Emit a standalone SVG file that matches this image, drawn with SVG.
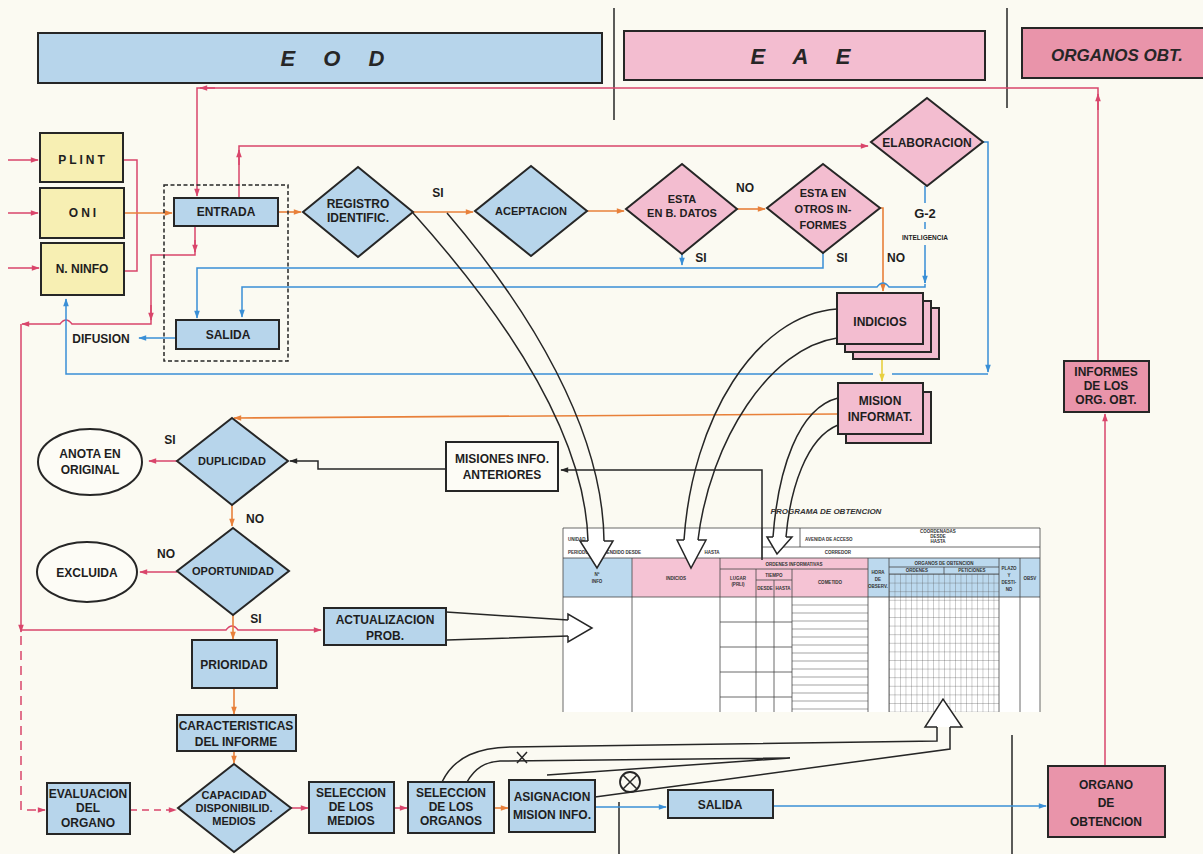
<svg xmlns="http://www.w3.org/2000/svg" width="1203" height="854" viewBox="0 0 1203 854">
<style>
.bl{fill:#b7d5eb;stroke:#262626;stroke-width:2}
.pk{fill:#f3bdd0;stroke:#262626;stroke-width:2}
.dpk{fill:#e994aa;stroke:#262626;stroke-width:2}
.ye{fill:#f7efb3;stroke:#262626;stroke-width:2}
.wh{fill:#fdfcf6;stroke:#262626;stroke-width:2}
.t{font-family:"Liberation Sans",Arial,sans-serif;font-weight:bold;font-size:12px;fill:#1e1e1e;text-anchor:middle}
.s{font-size:11px}
.h{font-family:"Liberation Sans",Arial,sans-serif;font-weight:bold;font-style:italic;fill:#262626;text-anchor:middle}
.tt{font-family:"Liberation Sans",Arial,sans-serif;font-weight:bold;font-size:4.5px;fill:#333;text-anchor:middle}
.ts{text-anchor:start}
.r{fill:none;stroke:#d9456b;stroke-width:1.5}
.o{fill:none;stroke:#e8803a;stroke-width:1.6}
.b{fill:none;stroke:#3a8fd6;stroke-width:1.5}
.k{fill:none;stroke:#262626;stroke-width:1.5}
.g{fill:none;stroke:#444;stroke-width:0.8}
.ha{fill:#fff;stroke:#262626;stroke-width:1.5}
</style>
<defs>
<marker id="ar" viewBox="0 0 10 10" refX="9" refY="5" markerWidth="9" markerHeight="8" orient="auto" markerUnits="userSpaceOnUse"><path d="M0,1.5 L10,5 L0,8.5 z" fill="#d9456b"/></marker>
<marker id="ao" viewBox="0 0 10 10" refX="9" refY="5" markerWidth="9" markerHeight="8" orient="auto" markerUnits="userSpaceOnUse"><path d="M0,1.5 L10,5 L0,8.5 z" fill="#e8803a"/></marker>
<marker id="ab" viewBox="0 0 10 10" refX="9" refY="5" markerWidth="9" markerHeight="8" orient="auto" markerUnits="userSpaceOnUse"><path d="M0,1.5 L10,5 L0,8.5 z" fill="#3a8fd6"/></marker>
<marker id="ay" viewBox="0 0 10 10" refX="9" refY="5" markerWidth="9" markerHeight="8" orient="auto" markerUnits="userSpaceOnUse"><path d="M0,1.5 L10,5 L0,8.5 z" fill="#e8d040"/></marker>
<marker id="ak" viewBox="0 0 10 10" refX="9" refY="5" markerWidth="9" markerHeight="8" orient="auto" markerUnits="userSpaceOnUse"><path d="M0,1.5 L10,5 L0,8.5 z" fill="#262626"/></marker>
<pattern id="grid" x="889" y="574" width="5.5" height="8.6" patternUnits="userSpaceOnUse"><path d="M0,0 V8.6 M0,0 H5.5" stroke="#555" stroke-width="0.6"/></pattern>
</defs>
<rect x="0" y="0" width="1203" height="854" fill="#fbfaf2"/>

<g id="dividers" stroke="#262626" stroke-width="1.5">
<line x1="614" y1="8" x2="614" y2="120"/>
<line x1="1007" y1="8" x2="1007" y2="108"/>
<line x1="619" y1="802" x2="619" y2="854"/>
<line x1="1012" y1="735" x2="1012" y2="854"/>
</g>

<g id="header-eod"><rect class="bl" x="38" y="33" width="564" height="50"/><text class="h" x="338" y="66" font-size="22" letter-spacing="11">E O D</text></g>
<g id="header-eae"><rect class="pk" x="624" y="31" width="361" height="49"/><text class="h" x="806" y="64" font-size="22" letter-spacing="11">E A E</text></g>
<g id="header-org"><rect class="dpk" x="1022" y="28" width="190" height="50"/><text class="h" x="1117" y="61" font-size="17">ORGANOS OBT.</text></g>

<g id="table">
<rect x="563" y="597" width="477" height="115" fill="#fff"/>
<rect x="563" y="528" width="477" height="30" fill="#fff"/>
<rect x="563" y="558" width="69" height="39" fill="#bcd9ee"/>
<rect x="632" y="558" width="236" height="39" fill="#f5c3d4"/>
<rect x="868" y="558" width="172" height="39" fill="#bcd9ee"/>
<rect x="889" y="574" width="110" height="138" fill="url(#grid)"/>
<g class="g">
<path d="M563,712 V528 H1040 V712"/>
<path d="M762,528 V558 M800,528 V547 M762,547 H1040 M563,558 H1040 M563,597 H1040"/>
<path d="M632,558 V712 M720,558 V712 M756,569 V712 M774,580 V712 M792,569 V712 M868,558 V712 M889,558 V712 M999,558 V712 M1020,558 V712"/>
<path d="M720,569 H868 M756,580 H792 M889,567 H999 M889,574 H999 M944,567 V574"/>
<path d="M720,622 H792 M720,647 H792 M720,672 H792 M720,697 H792"/>
<path d="M792,605 H868 M792,613 H868 M792,621 H868 M792,629 H868 M792,637 H868 M792,645 H868 M792,653 H868 M792,661 H868 M792,669 H868 M792,677 H868 M792,685 H868 M792,693 H868 M792,701 H868 M792,709 H868" stroke-width="0.5"/>
</g>
<text class="tt" x="826" y="514" style="font-size:8px;font-style:italic">PROGRAMA DE OBTENCION</text>
<text class="tt ts" x="568" y="541">UNIDAD</text>
<text class="tt ts" x="568" y="554">PERIODO COMPRENDIDO DESDE</text>
<text class="tt" x="712" y="554">HASTA</text>
<text class="tt ts" x="805" y="541">AVENIDA DE ACCESO</text>
<text class="tt" x="938" y="533">COORDENADAS</text>
<text class="tt" x="938" y="538">DESDE</text>
<text class="tt" x="938" y="543">HASTA</text>
<text class="tt" x="838" y="554">CORREDOR</text>
<text class="tt" x="597" y="576">Nº</text>
<text class="tt" x="597" y="583">INFO</text>
<text class="tt" x="676" y="580">INDICIOS</text>
<text class="tt" x="794" y="566">ORDENES INFORMATIVAS</text>
<text class="tt" x="738" y="580">LUGAR</text>
<text class="tt" x="738" y="586">(PRLI)</text>
<text class="tt" x="774" y="577">TIEMPO</text>
<text class="tt" x="765" y="590">DESDE</text>
<text class="tt" x="783" y="590">HASTA</text>
<text class="tt" x="830" y="584">COMETIDO</text>
<text class="tt" x="878" y="574">HORA</text>
<text class="tt" x="878" y="581">DE</text>
<text class="tt" x="878" y="588">OBSERV.</text>
<text class="tt" x="944" y="565">ORGANOS DE OBTENCION</text>
<text class="tt" x="917" y="572">ORDENES</text>
<text class="tt" x="972" y="572">PETICIONES</text>
<text class="tt" x="1009" y="570">PLAZO</text>
<text class="tt" x="1009" y="577">Y</text>
<text class="tt" x="1009" y="584">DESTI-</text>
<text class="tt" x="1009" y="591">NO</text>
<text class="tt" x="1030" y="580">OBSV</text>
</g>

<g id="connectors">
<path class="r" d="M8,160 H38" marker-end="url(#ar)"/>
<path class="r" d="M8,213 H38" marker-end="url(#ar)"/>
<path class="r" d="M8,268 H39" marker-end="url(#ar)"/>
<path class="r" d="M123,160 H137 V271 H124"/>
<path class="o" d="M124,213 H172" marker-end="url(#ao)"/>
<path class="r" d="M1098,362 V88 H197 V196" marker-end="url(#ar)"/>
<path class="r" d="M1098,110 V94" marker-end="url(#ar)"/>
<path class="r" d="M215,88 H200" marker-end="url(#ar)"/>
<path class="r" d="M239,198 V146 H868" marker-end="url(#ar)"/>
<path class="r" d="M239,165 V150" marker-end="url(#ar)"/>
<path class="r" d="M195,226 V255 H151 V324 H72 Q66,316 60,324 H22" marker-end="url(#ar)"/>
<path class="r" d="M195,240 V252" marker-end="url(#ar)"/>
<path class="r" d="M151,305 V320" marker-end="url(#ar)"/>
<path class="r" d="M21,324 V632" marker-end="url(#ar)"/>
<path class="r" d="M21,630 H226 Q232,622 238,630 H321" marker-end="url(#ar)"/>
<path class="r" d="M21,636 V810 H45" stroke-dasharray="9,6" marker-end="url(#ar)"/>
<path class="r" d="M130,810 H176" stroke-dasharray="7,5" marker-end="url(#ar)"/>
<path class="o" d="M278,212 H301" marker-end="url(#ao)"/>
<path class="o" d="M413,212 H473" marker-end="url(#ao)"/>
<path class="o" d="M587,211 H624" marker-end="url(#ao)"/>
<path class="o" d="M737,209 H765" marker-end="url(#ao)"/>
<path class="o" d="M880,208 H883 V291" marker-end="url(#ao)"/>
<path fill="none" stroke="#e8d040" stroke-width="1.6" d="M882,360 V381" marker-end="url(#ay)"/>
<path class="o" d="M838,414 L234,418" marker-end="url(#ao)"/>
<path class="b" d="M176,338 H139" marker-end="url(#ab)"/>
<path class="b" d="M682,254 V265" marker-end="url(#ab)"/>
<path class="b" d="M823,253 V268 H197 V318" marker-end="url(#ab)"/>
<path class="b" d="M925,186 V203 M925,222 V229 M925,245 V283"/>
<path class="b" d="M925,270 V283" marker-end="url(#ab)"/>
<path class="b" d="M925,284 V287 H889 Q883,279 877,287 H242 V317" marker-end="url(#ab)"/>
<path class="b" d="M983,142 H988 V372" marker-end="url(#ab)"/>
<path class="b" d="M988,374 H892 M873,374 H66 V299" marker-end="url(#ab)"/>
<path class="b" d="M595,807 H666" marker-end="url(#ab)"/>
<path class="b" d="M773,806 H1046" marker-end="url(#ab)"/>
<path class="r" d="M177,461 H149" marker-end="url(#ar)"/>
<path class="o" d="M232,505 V526" marker-end="url(#ao)"/>
<path class="r" d="M177,572 H140" marker-end="url(#ar)"/>
<path class="o" d="M233,615 V639" marker-end="url(#ao)"/>
<path class="o" d="M234,688 V714" marker-end="url(#ao)"/>
<path class="o" d="M234,751 V763" marker-end="url(#ao)"/>
<path class="r" d="M291,808 H308" marker-end="url(#ar)"/>
<path class="r" d="M394,808 H407" marker-end="url(#ar)"/>
<path class="o" d="M494,808 H508" marker-end="url(#ao)"/>
<path class="r" d="M1105,766 V414" marker-end="url(#ar)"/>
<path class="k" d="M762,560 V470 H561" marker-end="url(#ak)"/>
<path class="k" d="M446,469 H318 V461 H290" marker-end="url(#ak)"/>
<path class="k" d="M413,213 C500,310 585,430 588,541 M447,213 C530,310 603,430 604,541"/>
<path class="ha" d="M588,541 H580 L597,568 L613,541 H604"/>
<path class="k" d="M837,309 C755,315 692,420 684,540 M837,338 C770,348 710,440 698,540"/>
<path class="ha" d="M684,540 H677 L691,568 L706,540 H698"/>
<path class="k" d="M838,398 C798,408 778,470 773,537 M838,425 C806,438 790,490 786,537"/>
<path class="ha" d="M773,537 H767 L777,554 L792,537 H786"/>
<path class="k" d="M446,612 L568,620 M447,640 L568,636"/>
<path class="ha" d="M568,620 V614 L592,628 L568,642 V636"/>
<path class="k" d="M442,782 C455,755 480,748 510,747 L937,741 V727 M595,797 L950,749 V727"/>
<path class="ha" d="M937,727 H925 L943,699 L962,727 H950"/>
<path class="k" d="M467,782 C475,768 485,762 500,761 L790,758 M547,775 L790,758"/>
<path class="k" d="M517,752 L527,763 M527,752 L517,763"/>
<circle cx="630" cy="782" r="10" fill="none" stroke="#262626" stroke-width="1.8"/>
<path class="k" d="M623,775 L637,789 M637,775 L623,789"/>
</g>

<g id="plint"><rect class="ye" x="40" y="133" width="83" height="49"/><text class="t" x="83" y="164" letter-spacing="3">PLINT</text></g>
<g id="oni"><rect class="ye" x="40" y="188" width="84" height="50"/><text class="t" x="84" y="217" letter-spacing="3">ONI</text></g>
<g id="nninfo"><rect class="ye" x="41" y="243" width="83" height="52"/><text class="t" x="82" y="273">N. NINFO</text></g>

<g id="dashbox"><rect x="164" y="185" width="124" height="176" fill="none" stroke="#262626" stroke-width="1.5" stroke-dasharray="4,2.5"/></g>
<g id="entrada"><rect class="bl" x="174" y="198" width="104" height="28"/><text class="t" x="226" y="216">ENTRADA</text></g>
<g id="salida"><rect class="bl" x="176" y="320" width="103" height="29"/><text class="t" x="228" y="339">SALIDA</text></g>
<g id="difusion"><text class="t" x="101" y="343">DIFUSION</text></g>

<g id="registro"><path class="bl" d="M358,167 L413,212 L358,257 L303,212 Z"/><text class="t" x="358" y="208">REGISTRO</text><text class="t" x="358" y="222">IDENTIFIC.</text></g>
<g id="aceptacion"><path class="bl" d="M531,166 L587,211 L531,256 L475,211 Z"/><text class="t s" x="531" y="215">ACEPTACION</text></g>
<g id="esta-datos"><path class="pk" d="M682,164 L737,209 L682,254 L626,209 Z"/><text class="t s" x="682" y="203">ESTA</text><text class="t s" x="682" y="217">EN B. DATOS</text></g>
<g id="esta-otros"><path class="pk" d="M823,164 L880,208 L823,253 L767,208 Z"/><text class="t s" x="823" y="197">ESTA EN</text><text class="t s" x="823" y="213">OTROS IN-</text><text class="t s" x="823" y="229">FORMES</text></g>
<g id="elaboracion"><path class="pk" d="M927,98 L983,142 L927,186 L871,142 Z"/><text class="t" x="927" y="147">ELABORACION</text></g>
<g id="labels-top">
<text class="t" x="438" y="197">SI</text>
<text class="t" x="745" y="192">NO</text>
<text class="t" x="701" y="262">SI</text>
<text class="t" x="842" y="262">SI</text>
<text class="t" x="896" y="262">NO</text>
<text class="t" x="925" y="218" style="font-size:13px">G-2</text>
<text class="t" x="925" y="240" style="font-size:6.5px">INTELIGENCIA</text>
</g>

<g id="indicios">
<rect class="pk" x="853" y="308" width="86" height="51"/>
<rect class="pk" x="845" y="301" width="86" height="51"/>
<rect class="pk" x="837" y="293" width="86" height="51"/>
<text class="t" x="880" y="326">INDICIOS</text>
</g>
<g id="mision">
<rect class="pk" x="846" y="392" width="85" height="51"/>
<rect class="pk" x="838" y="383" width="85" height="51"/>
<text class="t" x="880" y="405">MISION</text><text class="t" x="880" y="421">INFORMAT.</text>
</g>
<g id="informes"><rect class="dpk" x="1064" y="361" width="85" height="51"/><text class="t" x="1106" y="376">INFORMES</text><text class="t" x="1106" y="390">DE LOS</text><text class="t" x="1106" y="404">ORG. OBT.</text></g>

<g id="anota"><ellipse class="wh" cx="90" cy="462" rx="52" ry="33"/><text class="t" x="90" y="458">ANOTA EN</text><text class="t" x="90" y="474">ORIGINAL</text></g>
<g id="duplicidad"><path class="bl" d="M232,418 L288,461 L232,505 L177,461 Z"/><text class="t s" x="232" y="465">DUPLICIDAD</text></g>
<g id="labels-mid">
<text class="t" x="170" y="444">SI</text>
<text class="t" x="255" y="523">NO</text>
<text class="t" x="166" y="558">NO</text>
<text class="t" x="256" y="623">SI</text>
</g>
<g id="excluida"><ellipse class="wh" cx="87" cy="572" rx="50" ry="30"/><text class="t" x="87" y="577">EXCLUIDA</text></g>
<g id="oportunidad"><path class="bl" d="M233,528 L289,571 L233,615 L177,571 Z"/><text class="t s" x="233" y="575">OPORTUNIDAD</text></g>
<g id="misiones"><rect class="wh" x="446" y="442" width="112" height="49"/><text class="t" x="502" y="463">MISIONES INFO.</text><text class="t" x="502" y="479">ANTERIORES</text></g>
<g id="actualizacion"><rect class="bl" x="324" y="608" width="122" height="37"/><text class="t" x="385" y="624">ACTUALIZACION</text><text class="t" x="385" y="640">PROB.</text></g>
<g id="prioridad"><rect class="bl" x="192" y="640" width="85" height="48"/><text class="t" x="234" y="669">PRIORIDAD</text></g>
<g id="caracteristicas"><rect class="bl" x="177" y="715" width="119" height="36"/><text class="t" x="236" y="730">CARACTERISTICAS</text><text class="t" x="236" y="746">DEL INFORME</text></g>
<g id="evaluacion"><rect class="bl" x="47" y="783" width="83" height="51"/><text class="t" x="88" y="798">EVALUACION</text><text class="t" x="88" y="812">DEL</text><text class="t" x="88" y="827">ORGANO</text></g>
<g id="capacidad"><path class="bl" d="M234,764 L291,808 L234,852 L178,808 Z"/><text class="t s" x="234" y="799">CAPACIDAD</text><text class="t s" x="234" y="812">DISPONIBILID.</text><text class="t s" x="234" y="825">MEDIOS</text></g>
<g id="sel-medios"><rect class="bl" x="309" y="782" width="85" height="51"/><text class="t" x="351" y="797">SELECCION</text><text class="t" x="351" y="811">DE LOS</text><text class="t" x="351" y="825">MEDIOS</text></g>
<g id="sel-organos"><rect class="bl" x="408" y="782" width="86" height="51"/><text class="t" x="451" y="797">SELECCION</text><text class="t" x="451" y="811">DE LOS</text><text class="t" x="451" y="825">ORGANOS</text></g>
<g id="asignacion"><rect class="bl" x="509" y="780" width="86" height="52"/><text class="t" x="552" y="801">ASIGNACION</text><text class="t" x="552" y="819">MISION INFO.</text></g>
<g id="salida2"><rect class="bl" x="668" y="790" width="105" height="28"/><text class="t" x="720" y="809">SALIDA</text></g>
<g id="organo"><rect class="dpk" x="1048" y="766" width="117" height="71"/><text class="t" x="1106" y="789">ORGANO</text><text class="t" x="1106" y="807">DE</text><text class="t" x="1106" y="826">OBTENCION</text></g>
</svg>
